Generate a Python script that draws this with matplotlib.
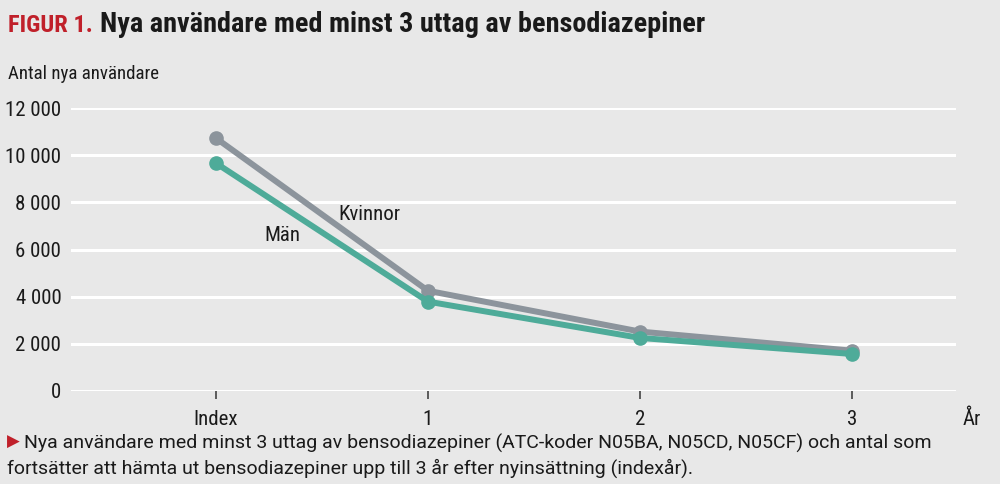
import matplotlib
matplotlib.use("Agg")
import matplotlib.pyplot as plt
from matplotlib import font_manager

names = {f.name for f in font_manager.fontManager.ttflist}
def pick(cands, default="DejaVu Sans"):
    for c in cands:
        if c in names:
            return c
    return default

COND = pick(["Roboto Condensed", "Archivo Narrow", "Asap Condensed", "Barlow Semi Condensed", "PT Sans Narrow", "Liberation Sans Narrow"])
REG = pick(["Roboto", "Liberation Sans"])

categories = ["Index", "1", "2", "3"]
kvinnor = [10720, 4250, 2520, 1710]
man = [9660, 3790, 2250, 1570]
yticks = [0, 2000, 4000, 6000, 8000, 10000, 12000]
ytick_labels = ["0", "2 000", "4 000", "6 000", "8 000", "10 000", "12 000"]

BG = "#e8e8e8"
GREY = "#8c949c"
GREEN = "#4eab99"
RED = "#c0202a"
INK = "#1a1a1a"

fig = plt.figure(figsize=(10, 4.84), dpi=100, facecolor=BG)
W, H = 1000, 484
ax = fig.add_axes([71 / W, 1 - 391 / H, (956 - 71) / W, (391 - 108) / H])
ax.set_facecolor(BG)
x = list(range(len(categories)))
ax.set_xlim((71 - 216) / 212, (956 - 216) / 212)
ax.set_ylim(0, 12000)
for yv in yticks:
    ax.axhline(yv, color="white", lw=2.2, zorder=1)
ax.plot(x, kvinnor, color=GREY, lw=4.3, marker="o", ms=9.5, zorder=3, solid_capstyle="round")
ax.plot(x, man, color=GREEN, lw=4.3, marker="o", ms=9.5, zorder=4, solid_capstyle="round")
for s in ax.spines.values():
    s.set_visible(False)
ax.set_yticks(yticks)
ax.set_yticklabels(ytick_labels, family=COND, fontsize=15, color=INK)
ax.tick_params(axis="y", length=0, pad=7)
ax.set_xticks(x)
ax.set_xticklabels(categories, family=COND, fontsize=15, color=INK)
ax.tick_params(axis="x", length=6, width=1.2, color="#444444", pad=8)

ax.text(0.726, 7490, "Kvinnor", family=COND, fontsize=15, color=INK, ha="center", va="center")
ax.text(0.311, 6600, "Män", family=COND, fontsize=15, color=INK, ha="center", va="center")

fig.text(972 / W, 1 - 419 / H, "År", family=COND, fontsize=15, color=INK, ha="center", va="center")

fig.canvas.draw()
r = fig.canvas.get_renderer()

def fit(t, target_w):
    w = t.get_window_extent(r).width
    t.set_fontsize(t.get_fontsize() * target_w / w)

yl = fig.text(8 / W, 1 - 74 / H, "Antal nya användare", family=COND, fontsize=14, color=INK, ha="left", va="center")
fit(yl, 152)

t1 = fig.text(8 / W, 1 - 25 / H, "FIGUR 1.", family=COND, fontsize=22, weight="bold", color=RED, ha="left", va="center")
fit(t1, 85)
t2 = fig.text(100 / W, 1 - 25 / H, "Nya användare med minst 3 uttag av bensodiazepiner", family=COND, fontsize=22,
              weight="bold", color=INK, ha="left", va="center")
fit(t2, 605)

fig.text(7 / W, 1 - 442 / H, "▶", family="DejaVu Sans", fontsize=12, color=RED, ha="left", va="center")
c1 = fig.text(24 / W, 1 - 443 / H, "Nya användare med minst 3 uttag av bensodiazepiner (ATC-koder N05BA, N05CD, N05CF) och antal som",
              family=REG, fontsize=13, color=INK, ha="left", va="center")
fit(c1, 904)
c2 = fig.text(7 / W, 1 - 468 / H, "fortsätter att hämta ut bensodiazepiner upp till 3 år efter nyinsättning (indexår).",
              family=REG, fontsize=c1.get_fontsize(), color=INK, ha="left", va="center")

fig.savefig("out.png", dpi=100, facecolor=BG)
